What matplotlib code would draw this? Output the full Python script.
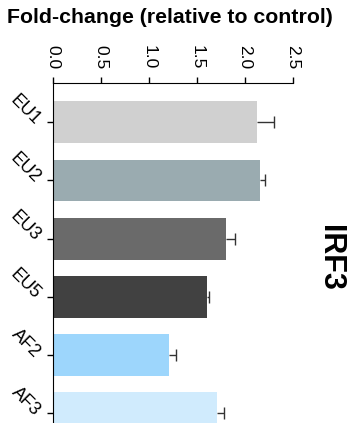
import numpy as np
import matplotlib
matplotlib.use("Agg")
import matplotlib.pyplot as plt

plt.rcParams['font.family'] = ['Liberation Sans', 'DejaVu Sans']

samples = ["EU1", "EU2", "EU3", "EU5", "AF2", "AF3"]
fold = [2.12, 2.16, 1.80, 1.60, 1.21, 1.71]
err = [0.18, 0.05, 0.10, 0.025, 0.075, 0.07]
colors = ["#d0d0d0", "#9aabb0", "#6a6a6a", "#414141", "#9dd6fc", "#d0ebfd"]
xticks = [0.0, 0.5, 1.0, 1.5, 2.0, 2.5]

fig = plt.figure(figsize=(3.49, 4.23), dpi=100)
ax = fig.add_axes([0.1519, -0.0459, 0.6877, 0.8497])

ypos = np.arange(len(samples))
ax.barh(ypos, fold, height=0.72, color=colors)
eb = ax.errorbar(fold, ypos, xerr=[np.zeros(len(err)), err], fmt='none',
                 ecolor='#333333', elinewidth=1, capsize=4.5, capthick=1)
# only keep the cap at the outer end
eb[1][0].set_visible(False)

ax.set_xlim(0, 2.5)
ax.set_ylim(5.5, -0.675)
ax.set_xticks(xticks)
ax.set_xticklabels(["%.1f" % v for v in xticks])
ax.set_yticks(ypos)
ax.set_yticklabels(samples)

ax.spines['right'].set_visible(False)
ax.spines['bottom'].set_visible(False)
ax.xaxis.tick_top()
ax.tick_params(axis='x', labelrotation=-90, labelsize=12.5, length=4, width=1, pad=6)
ax.tick_params(axis='y', labelsize=13, length=4, width=1, pad=7)
for lab in ax.get_yticklabels():
    lab.set_rotation(-45)
    lab.set_rotation_mode('anchor')
    lab.set_ha('right')
    lab.set_va('center')

fig.text(0.487, 0.958, "Fold-change (relative to control)", ha='center', va='center',
         fontsize=15.3, fontweight='bold')
fig.text(0.945, 0.39, "IRF3", ha='center', va='center', rotation=-90,
         fontsize=22, fontweight='bold')

fig.savefig("out.png", dpi=100)
